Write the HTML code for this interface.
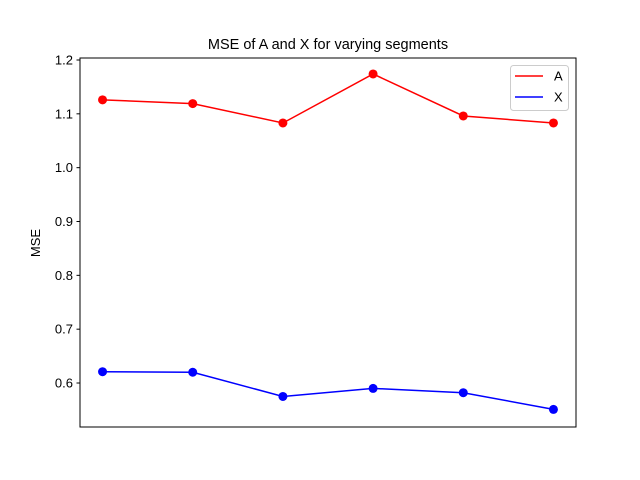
<!DOCTYPE html>
<html><head><meta charset="utf-8"><style>
body{margin:0;background:#fff;}
svg{display:block;font-family:"Liberation Sans","DejaVu Sans",sans-serif;}
</style></head><body>
<svg id="chart" width="640" height="480">
<rect width="640" height="480" fill="#fff"/>
<text x="328" y="49" text-anchor="middle" font-size="14.5" fill="#000">MSE of A and X for varying segments</text>
<text transform="translate(40,243) rotate(-90)" text-anchor="middle" font-size="13" fill="#000">MSE</text>
<g id="yticks"></g>
<g id="series"></g>
<rect x="80" y="58" width="496" height="369" fill="none" stroke="#000" stroke-width="1"/>
<g>
<rect x="510.5" y="65.5" width="58" height="45" rx="3" fill="#fff" fill-opacity="0.8" stroke="#ccc"/>
<line x1="515" y1="76" x2="543" y2="76" stroke="#f00" stroke-width="1.5"/>
<text x="554" y="80.5" font-size="13">A</text>
<line x1="515" y1="97" x2="543" y2="97" stroke="#00f" stroke-width="1.5"/>
<text x="554" y="101.5" font-size="13">X</text>
</g>
</svg>
<script>
const categories = [0, 1, 2, 3, 4, 5];
const seriesA = [1.126, 1.119, 1.083, 1.174, 1.096, 1.083];
const seriesX = [0.621, 0.620, 0.575, 0.590, 0.582, 0.551];
const yTicks = [0.6, 0.7, 0.8, 0.9, 1.0, 1.1, 1.2];
const yTickLabels = ["0.6", "0.7", "0.8", "0.9", "1.0", "1.1", "1.2"];

const NS = "http://www.w3.org/2000/svg";
const X0 = 80, X1 = 576, Y0 = 58, Y1 = 427;
const xMin = -0.25, xMax = 5.25, yMin = 0.5183, yMax = 1.2037;
const xs = v => X0 + (v - xMin) / (xMax - xMin) * (X1 - X0);
const ys = v => Y1 - (v - yMin) / (yMax - yMin) * (Y1 - Y0);

const yg = document.getElementById('yticks');
yTicks.forEach((t, i) => {
  const l = document.createElementNS(NS, 'line');
  l.setAttribute('x1', X0 - 3.5); l.setAttribute('x2', X0);
  l.setAttribute('y1', ys(t)); l.setAttribute('y2', ys(t));
  l.setAttribute('stroke', '#000');
  
  
  yg.appendChild(l);
  const tx = document.createElementNS(NS, 'text');
  tx.setAttribute('x', X0 - 7); tx.setAttribute('y', ys(t) + 4.5);
  tx.setAttribute('text-anchor', 'end'); tx.setAttribute('font-size', '13');
  tx.textContent = yTickLabels[i];
  
  
  yg.appendChild(tx);
});

const sg = document.getElementById('series');
function drawSeries(vals, color, name) {
  const p = document.createElementNS(NS, 'polyline');
  p.setAttribute('points', vals.map((v, i) => xs(categories[i]) + ',' + ys(v)).join(' '));
  p.setAttribute('fill', 'none'); p.setAttribute('stroke', color); p.setAttribute('stroke-width', '1.5');
  
  
  sg.appendChild(p);
  vals.forEach((v, i) => {
    const c = document.createElementNS(NS, 'circle');
    c.setAttribute('cx', xs(categories[i])); c.setAttribute('cy', ys(v)); c.setAttribute('r', '4.5');
    c.setAttribute('fill', color);
    
    
    sg.appendChild(c);
  });
}
drawSeries(seriesA, '#f00', 'series-a');
drawSeries(seriesX, '#00f', 'series-x');
</script>
</body></html>
